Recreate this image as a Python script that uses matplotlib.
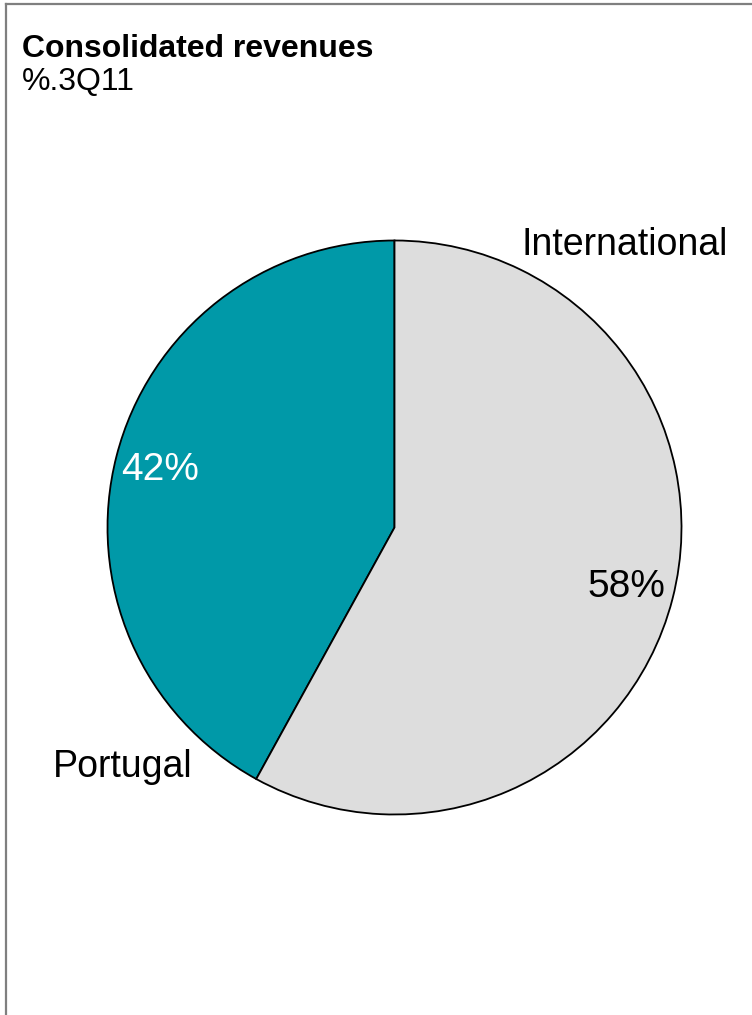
"""Consolidated revenues split, 3Q11: Portugal vs International pie."""

import matplotlib.pyplot as plt
from matplotlib.lines import Line2D

plt.rcParams["font.family"] = ["Liberation Sans", "DejaVu Sans"]

segments = ["Portugal", "International"]
shares = [42, 58]
colors = ["#0099a8", "#dddddd"]
pct_colors = ["white", "black"]

W, H = 752, 1015
fig = plt.figure(figsize=(W / 100, H / 100), dpi=100)

# frame lines along the top and left edges
fig.add_artist(Line2D([6 / W, 1], [1 - 4 / H, 1 - 4 / H], color="#7f7f7f", lw=1.6))
fig.add_artist(Line2D([6 / W, 6 / W], [0, 1 - 4 / H], color="#7f7f7f", lw=1.6))

fig.text(22 / W, 1 - 49 / H, "Consolidated revenues", fontsize=23,
         fontweight="bold", va="center", ha="left")
fig.text(22 / W, 1 - 82 / H, "%.3Q11", fontsize=23, va="center", ha="left")

r_px = 287
cx, cy = 394.5, 527.5
ax = fig.add_axes([(cx - r_px) / W, 1 - (cy + r_px) / H, 2 * r_px / W, 2 * r_px / H])
wedges, _ = ax.pie(shares, colors=colors, startangle=90, counterclock=True,
                   radius=1.0, wedgeprops=dict(edgecolor="black", linewidth=1.3))
ax.set_xlim(-1, 1)
ax.set_ylim(-1, 1)
ax.set_aspect("equal")
ax.axis("off")


def to_data(px, py):
    return (px - cx) / r_px, (cy - py) / r_px


pct_pos = [(160, 470), (626, 587)]
name_pos = [(123, 767), (625, 245)]
for seg, val, pc, pp, npos in zip(segments, shares, pct_colors, pct_pos, name_pos):
    x, y = to_data(*pp)
    ax.text(x, y, f"{val}%", color=pc, fontsize=28, ha="center", va="center")
    x, y = to_data(*npos)
    ax.text(x, y, seg, color="black", fontsize=27, ha="center", va="center",
            clip_on=False)

fig.savefig("out.png", dpi=100)
